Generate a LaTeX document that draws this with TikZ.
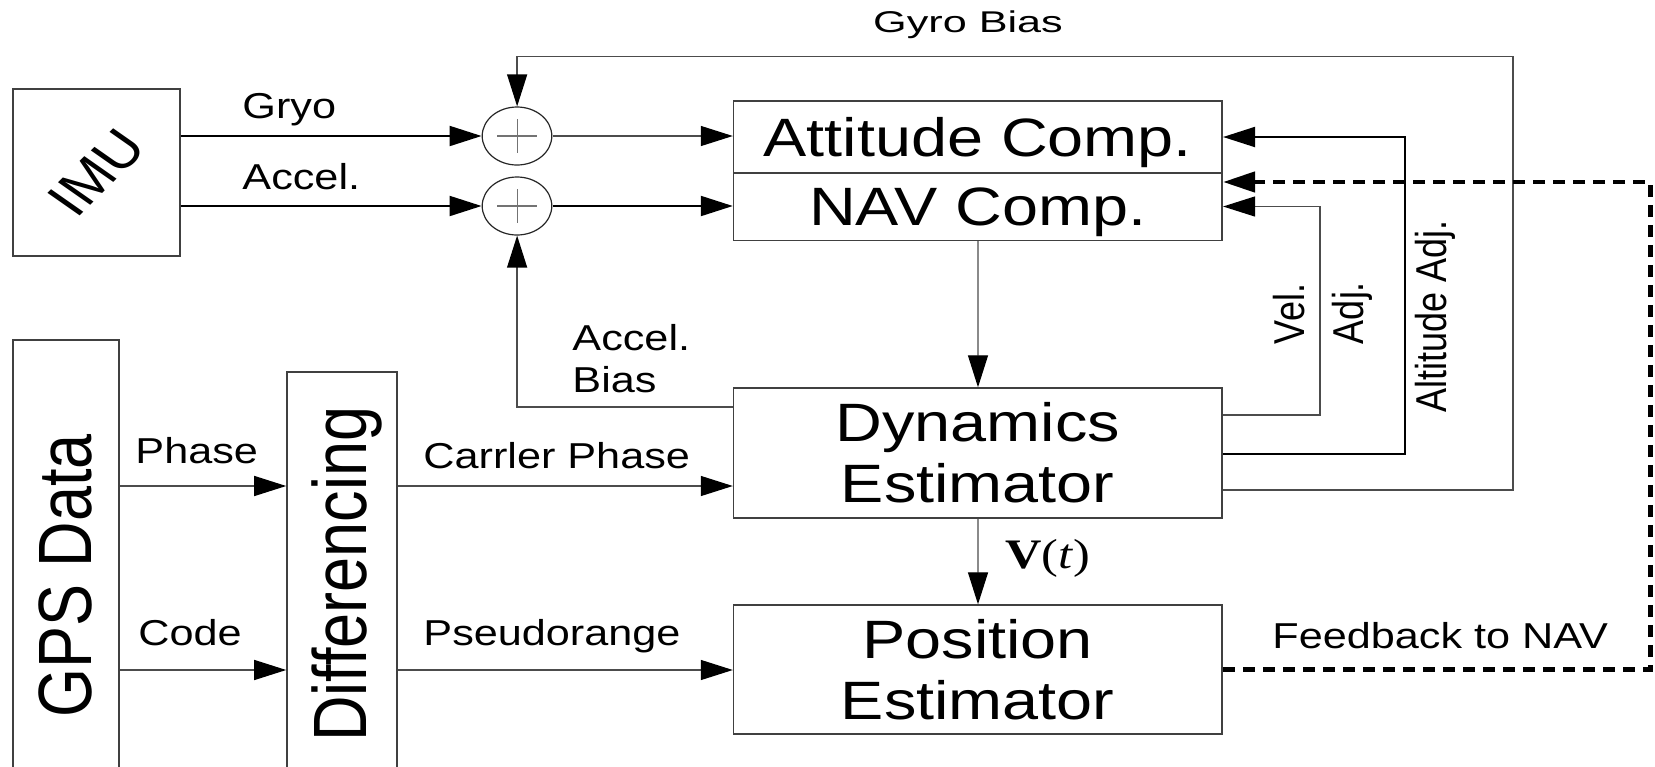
\documentclass[tikz,border=0pt]{standalone}
\usepackage{fontspec}
\usepackage{graphicx}
\setmainfont{Liberation Sans}
\newfontfamily\vtfont{Liberation Serif}
\usetikzlibrary{arrows.meta,calc}

\begin{document}
\begin{tikzpicture}[
  x=0.41667pt,y=-0.5pt,xscale=1.2,transform shape,
  block/.style={draw=black!75,line width=0.7pt,inner sep=0pt,align=center,font=\fontsize{27}{30.5}\selectfont},
  flat/.style={text depth=0pt},
  sumnode/.style={draw=black!85,circle,line width=0.6pt,minimum size=29pt,inner sep=0pt},
  lbl/.style={inner sep=0pt,font=\fontsize{18}{21}\selectfont},
  tall/.style={inner sep=0pt,rotate=90,font=\fontsize{31.5}{36}\selectfont},
  arr/.style={-{Triangle[length=16pt,width=10pt,color=black]}},
  thk/.style={arr,line width=1pt,black},
  thn/.style={arr,line width=0.65pt,black!70},
  fb/.style={arr,line width=2.3pt,black,dash pattern=on 6pt off 4pt}
]
\useasboundingbox (0,0) rectangle (1655,767);
\clip (0,0) rectangle (1655,767);

\node[block,minimum width=69.6pt,minimum height=83.5pt,font=\fontsize{25.5}{28}\selectfont] (imu) at (96.5,172.5) {\rotatebox{50}{IMU}};
\node[sumnode] (sumg) at (517,136) {};
\node[sumnode] (suma) at (517,206) {};
\foreach \s in {sumg,suma}
  \draw[black!55,line width=0.6pt] ($(\s)+(-20,0)$) -- ($(\s)+(20,0)$) ($(\s)+(0,-17)$) -- ($(\s)+(0,17)$);
\node[block,flat,minimum width=203.54pt,minimum height=36pt] (att) at (977.75,137) {Attitude Comp.};
\node[block,flat,minimum width=203.54pt,minimum height=34pt] (nav) at (977.75,206.5) {NAV Comp.};
\node[block,minimum width=203.54pt,minimum height=65pt] (dyn) at (977.75,453) {Dynamics\\Estimator};
\node[block,minimum width=203.54pt,minimum height=64.5pt] (pos) at (977.75,669.5) {Position\\Estimator};
\node[block,minimum width=44.17pt,minimum height=240pt] (gps) at (66,580) {};
\node[block,minimum width=45.83pt,minimum height=224pt] (diff) at (342,596) {};
\node[tall] (gpstxt) at (65.5,576) {GPS Data};
\node[tall] (difftxt) at (347,574) {Differencing};

\node[lbl,anchor=base west] (gryo) at (242,118) {Gryo};
\node[lbl,anchor=base west] (accl) at (242,189) {Accel.};
\node[lbl,anchor=base,font=\fontsize{15}{18}\selectfont] (gyrob) at (968,32) {\scalebox{1.2}[1]{Gyro Bias}};
\node[lbl,align=left,anchor=north west] (accb) at (572,324) {Accel.\\Bias};
\node[lbl,rotate=90,align=left,font=\fontsize{18}{24.5}\selectfont] (veladj) at (1323,313) {Vel.\\Adj.};
\node[lbl,rotate=90] (altadj) at (1435,316) {Altitude Adj.};
\node[lbl,anchor=base west] (phase) at (135,463) {Phase};
\node[lbl,anchor=base west] (code) at (138,645) {Code};
\node[lbl,anchor=base west] (carr) at (423,468) {Carrler Phase};
\node[lbl,anchor=base west] (pseudo) at (423,645) {Pseudorange};
\node[lbl,anchor=base west] (fbnav) at (1272,648) {Feedback to NAV};
\node[inner sep=0pt,anchor=base west,font=\vtfont\fontsize{21}{24}\selectfont] (vt) at (1005,568) {\textbf{V}(\textit{t})};

\coordinate (phs) at (0,486);
\coordinate (cod) at (0,670);
\coordinate (fbk) at (1650,182);

\draw[thk] (imu.east |- sumg) -- (sumg);
\draw[thk] (imu.east |- suma) -- (suma);
\draw[thn] (sumg) -- (sumg -| att.west);
\draw[thk] (suma) -- (suma -| nav.west);
\draw[thn] (nav) -- (dyn);
\draw[thn] (dyn) -- (pos);
\draw[thn] ($(dyn.east)+(0,37)$) -| (1513,56.5) -| (sumg);
\draw[thk] ($(dyn.east)+(0,1)$) -| ($(att.east)+(182,0)$) -- (att.east);
\draw[thn] ($(dyn.east)+(0,-38)$) -| ($(nav.east)+(97,0)$) -- (nav.east);
\draw[thn] ($(dyn.west)+(0,-46)$) -| (suma);
\draw[fb] (pos.east) -| (fbk) -- (fbk -| att.east);
\draw[thn] (gps.east |- phs) -- (diff.west |- phs);
\draw[thn] (diff.east |- phs) -- (dyn.west |- phs);
\draw[thn] (gps.east |- cod) -- (diff.west |- cod);
\draw[thn] (diff.east |- cod) -- (pos.west |- cod);
\end{tikzpicture}
\end{document}
